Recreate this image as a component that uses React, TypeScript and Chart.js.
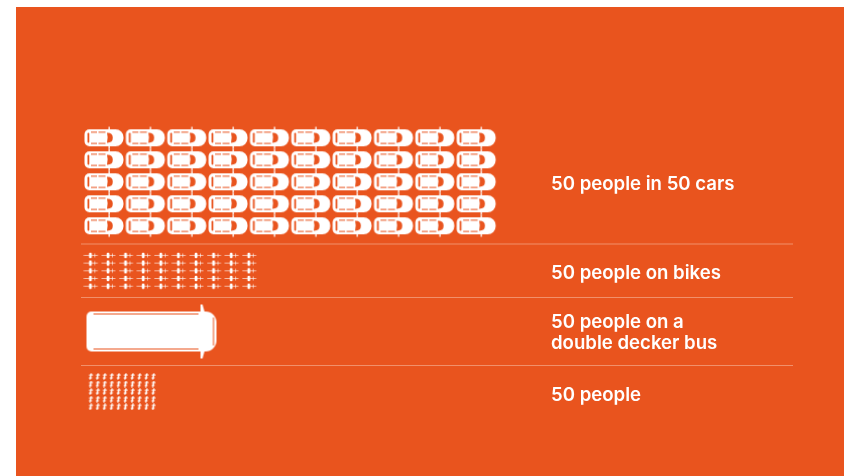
import React, { useEffect, useRef } from "react";
import Chart from "chart.js/auto";

// ---- data -------------------------------------------------------------
const categories = ["50 people in 50 cars", "50 people on bikes", "50 people on a|double decker bus", "50 people"];
const iconCounts = [50, 50, 1, 50];
const iconColumns = [10, 10, 1, 10];

// ---- layout -----------------------------------------------------------
const ORANGE = "#E9541E";
const RULE = "#F1906B";
const gridOrigin = [[104, 137.8], [91.3, 255.4], [151.5, 331.5], [90.7, 376.4]];
const gridPitch = [[41.35, 22], [17.6, 7.7], [0, 0], [6.96, 7.6]];
const ruleY = [244, 297.5, 365.5];
const ruleX = [81, 793];
const labelX = 551;
const labelY = [184.4, 273.4, 322.4, 395.4];
const labelLineHeight = 21.2;

function makeIcon(w: number, h: number, blur: number, draw: (c: CanvasRenderingContext2D) => void) {
  const cv = document.createElement("canvas");
  cv.width = w;
  cv.height = h;
  const c = cv.getContext("2d")!;
  c.filter = `blur(${blur}px)`;
  draw(c);
  return cv;
}

function rr(c: CanvasRenderingContext2D, x: number, y: number, w: number, h: number, r: number | number[]) {
  c.beginPath();
  c.roundRect(x, y, w, h, r);
}

function carIcon() {
  return makeIcon(42, 25, 0.55, (c) => {
    c.fillStyle = "#fff";
    rr(c, 1.5, 4, 39, 17, [5, 8, 8, 5]);
    c.fill();
    // mirrors
    c.fillRect(25.5, 1.5, 1.3, 22);
    // windscreen
    c.fillStyle = ORANGE;
    c.beginPath();
    c.moveTo(24, 7.6);
    c.quadraticCurveTo(29.8, 7.4, 29.8, 12.5);
    c.quadraticCurveTo(29.8, 17.6, 24, 17.4);
    c.quadraticCurveTo(25.4, 12.5, 24, 7.6);
    c.fill();
    // rear window
    rr(c, 4.5, 7.5, 1.8, 10, 1);
    c.fill();
    // side windows
    c.fillStyle = ORANGE;
    c.fillRect(8, 6.4, 6, 1);
    c.fillRect(15.5, 6.4, 7, 1);
    c.fillRect(8, 17.6, 6, 1);
    c.fillRect(15.5, 17.6, 7, 1);
  });
}

function bikeIcon() {
  return makeIcon(16, 7, 0.35, (c) => {
    c.fillStyle = "rgba(255,255,255,0.6)";
    c.fillRect(0.5, 3, 14, 1);
    c.fillRect(11, 1.5, 1, 4);
    c.fillStyle = "#fff";
    rr(c, 5.7, 0.8, 2.8, 5.4, 1.3);
    c.fill();
  });
}

function busIcon() {
  return makeIcon(134, 56, 0.5, (c) => {
    c.fillStyle = "#fff";
    rr(c, 2, 8, 130, 40, [5, 11, 11, 5]);
    c.fill();
    // mirrors
    c.beginPath();
    c.moveTo(116, 1);
    c.lineTo(118, 1);
    c.lineTo(120, 8);
    c.lineTo(120, 48);
    c.lineTo(118, 55);
    c.lineTo(116, 55);
    c.fill();
    // side stripes
    c.fillStyle = ORANGE;
    c.fillRect(9, 10, 105, 1);
    c.fillRect(9, 45, 105, 1);
    // windscreen
    c.fillRect(128.5, 14, 1, 28);
  });
}

function personIcon() {
  return makeIcon(7, 7, 0.35, (c) => {
    c.fillStyle = "rgba(255,255,255,0.9)";
    c.transform(1, 0, -0.2, 1, 0.7, 0);
    c.fillRect(2.6, 0.6, 1.7, 5.8);
    c.fillStyle = "rgba(255,255,255,0.7)";
    c.fillRect(1.4, 1.6, 4.2, 1.1);
    c.fillRect(1.8, 4.4, 3.6, 1.1);
  });
}

const iconMakers = [carIcon, bikeIcon, busIcon, personIcon];

function gridPoints(i: number) {
  const pts: { x: number; y: number }[] = [];
  const cols = iconColumns[i];
  for (let n = 0; n < iconCounts[i]; n++) {
    const col = n % cols;
    const row = Math.floor(n / cols);
    pts.push({
      x: gridOrigin[i][0] + col * gridPitch[i][0],
      y: gridOrigin[i][1] + row * gridPitch[i][1],
    });
  }
  return pts;
}

const labelPlugin = {
  id: "rowLabels",
  afterDatasetsDraw(chart: any) {
    const { ctx, scales } = chart;
    ctx.save();
    ctx.fillStyle = "#FFFFFF";
    ctx.font = "600 18.6px Inter, sans-serif";
    ctx.textAlign = "left";
    ctx.textBaseline = "middle";
    categories.forEach((label, i) => {
      label.split("|").forEach((line, k) => {
        ctx.fillText(line, scales.x.getPixelForValue(labelX), scales.y.getPixelForValue(labelY[i] + k * labelLineHeight));
      });
    });
    ctx.restore();
  },
};

export default function App() {
  const ref = useRef<HTMLCanvasElement>(null);
  useEffect(() => {
    const iconDatasets = categories.map((label, i) => ({
      type: "scatter" as const,
      label,
      data: gridPoints(i),
      pointStyle: iconMakers[i](),
      pointRadius: 5,
      showLine: false,
      clip: false as const,
    }));
    const ruleDatasets = ruleY.map((y, i) => ({
      type: "scatter" as const,
      label: `rule ${i}`,
      data: ruleX.map((x) => ({ x, y })),
      showLine: true,
      borderColor: RULE,
      borderWidth: 1,
      pointRadius: 0,
    }));
    const chart = new Chart(ref.current!, {
      type: "scatter",
      data: { datasets: [...ruleDatasets, ...iconDatasets] as any },
      options: {
        animation: false,
        responsive: false,
        layout: { padding: 0, autoPadding: false },
        plugins: { legend: { display: false }, tooltip: { enabled: false } },
        scales: {
          x: { type: "linear", min: 16, max: 844, display: false },
          y: { type: "linear", min: 7, max: 476, reverse: true, display: false },
        },
      },
      plugins: [labelPlugin],
    });
    return () => chart.destroy();
  }, []);
  return (
    <div style={{ position: "fixed", left: 0, top: 0, width: 844, height: 476, background: "#fff", overflow: "hidden" }}>
      <canvas
        ref={ref}
        width={828}
        height={469}
        style={{ position: "absolute", left: 16, top: 7, width: 828, height: 469, background: ORANGE }}
      />
    </div>
  );
}
